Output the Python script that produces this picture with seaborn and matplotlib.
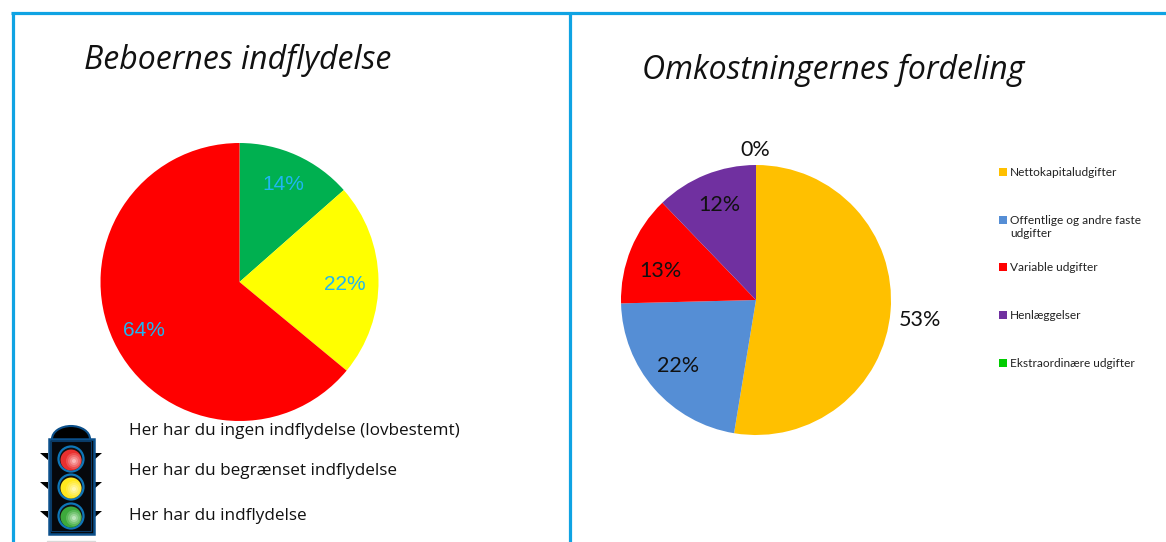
import matplotlib
matplotlib.use("Agg")
import matplotlib.pyplot as plt
import seaborn as sns
from matplotlib.patches import Circle, Rectangle, Ellipse, Polygon

sns.set_theme(style="white")
plt.rcParams['font.family'] = ['Open Sans', 'DejaVu Sans']

W, H = 1166, 542

# left pie
influence_title = "Beboernes indflydelse"
influence_values = [13.5, 22.5, 64]
influence_labels = ["14%", "22%", "64%"]
influence_colors = sns.color_palette(["#00B050", "#FFFF00", "#FF0000"])
light_texts = ["Her har du ingen indflydelse (lovbestemt)",
               "Her har du begrænset indflydelse",
               "Her har du indflydelse"]

# right pie
cost_title = "Omkostningernes fordeling"
cost_names = ["Nettokapitaludgifter", "Offentlige og andre faste\nudgifter",
              "Variable udgifter", "Henlæggelser", "Ekstraordinære udgifter"]
cost_values = [52.6, 22, 13.2, 12.2, 0]
cost_labels = ["53%", "22%", "13%", "12%", "0%"]
cost_colors = sns.color_palette(["#FFC000", "#558ED5", "#FF0000", "#7030A0", "#00CC00"])

BLUE = "#0FA3E3"


def pie_axes(fig, cx, cy, r, values, colors):
    # axes box in pixels, y measured from the top like the picture
    m = 1.02
    ax = fig.add_axes([(cx - r * m) / W, 1 - (cy + r * m) / H, 2 * r * m / W, 2 * r * m / H])
    ax.pie(values, colors=colors, startangle=90, counterclock=False, radius=1,
           wedgeprops={"linewidth": 0})
    ax.set_xlim(-m, m)
    ax.set_ylim(-m, m)
    ax.axis("off")
    return ax


fig = plt.figure(figsize=(W / 100, H / 100), dpi=100, facecolor="white")

pie_axes(fig, 239.5, 282, 139, influence_values, influence_colors)
pie_axes(fig, 756, 300, 135, cost_values, cost_colors)

# overlay in pixel coordinates for frame, texts, legend, traffic light
bg = fig.add_axes([0, 0, 1, 1])
bg.patch.set_alpha(0)
bg.set_xlim(0, W)
bg.set_ylim(H, 0)
bg.axis("off")

bg.plot([12.5, 12.5], [H, 13], color=BLUE, lw=2.3, solid_capstyle="butt")
bg.plot([11, W], [13, 13], color=BLUE, lw=2.3, solid_capstyle="butt")
bg.plot([570, 570], [13, H], color=BLUE, lw=2.3, solid_capstyle="butt")

# titles
bg.text(84, 60, influence_title, fontsize=23, style="italic", color="#111111", va="center", ha="left")
bg.text(642, 70, cost_title, fontsize=23, style="italic", color="#111111", va="center", ha="left")

# pie labels
label_pos1 = [(283.5, 185), (345, 284), (144, 331)]
for (x, y), t in zip(label_pos1, influence_labels):
    bg.text(x, y, t, fontsize=15, family="Liberation Sans", color="#1FB6F2",
            ha="center", va="center", zorder=5)

label_pos2 = [(920, 320), (678, 366), (660, 271), (719, 205), (755, 150)]
for (x, y), t in zip(label_pos2, cost_labels):
    bg.text(x, y, t, fontsize=15.5, family="Lato", color="#111111",
            ha="center", va="center", zorder=5)

# legend of the cost pie
legend_y = [172, 220, 267, 315, 363]
for y, name, c in zip(legend_y, cost_names, cost_colors):
    bg.add_patch(Rectangle((999, y - 4), 8, 8, color=c, lw=0))
    bg.text(1010, y - 5, name, fontsize=8.6, family="Lato", color="#222222",
            ha="left", va="top", linespacing=1.25)

# traffic light texts
for y, t in zip([431, 471, 516], light_texts):
    bg.text(129, y, t, fontsize=12.35, color="#111111", va="center", ha="left")

# traffic light
DARK = "#0B4F8A"
bg.add_patch(Ellipse((71, 439), 38, 26, facecolor="black", edgecolor=DARK, lw=1.5, zorder=6))
for y in [456, 485, 514]:
    bg.add_patch(Polygon([(40, y - 3), (48, y - 3), (48, y + 4)], color="black", lw=0, zorder=6))
    bg.add_patch(Polygon([(94, y - 3), (102, y - 3), (94, y + 4)], color="black", lw=0, zorder=6))
bg.add_patch(Rectangle((48.5, 438.5), 45, 95, facecolor="#06080C", edgecolor=DARK, lw=1.8, zorder=7))
bg.add_patch(Rectangle((51, 441), 40, 90, facecolor="none", edgecolor="#0A3A66", lw=0.8, zorder=7))
bg.plot([47, 95], [540.5, 540.5], color="#D8D8D8", lw=1, zorder=6)
bulbs = [(459, "#E8302F", "#FFD0D0"), (487, "#FFE81E", "#FFFBD0"), (516, "#3DAA3C", "#D5F2D5")]
for y, base, hi in bulbs:
    bg.add_patch(Circle((71, y), 12.5, facecolor="#111111", edgecolor="#0E76B8", lw=1.6, zorder=8))
    bg.add_patch(Circle((71, y + 1), 10.5, facecolor=base, lw=0, zorder=9))
    for r, a in [(8, 0.2), (6, 0.25), (4, 0.35), (2, 0.6)]:
        bg.add_patch(Circle((74, y + 2), r, facecolor=hi, alpha=a, lw=0, zorder=10))

fig.savefig("out.png", dpi=100)
